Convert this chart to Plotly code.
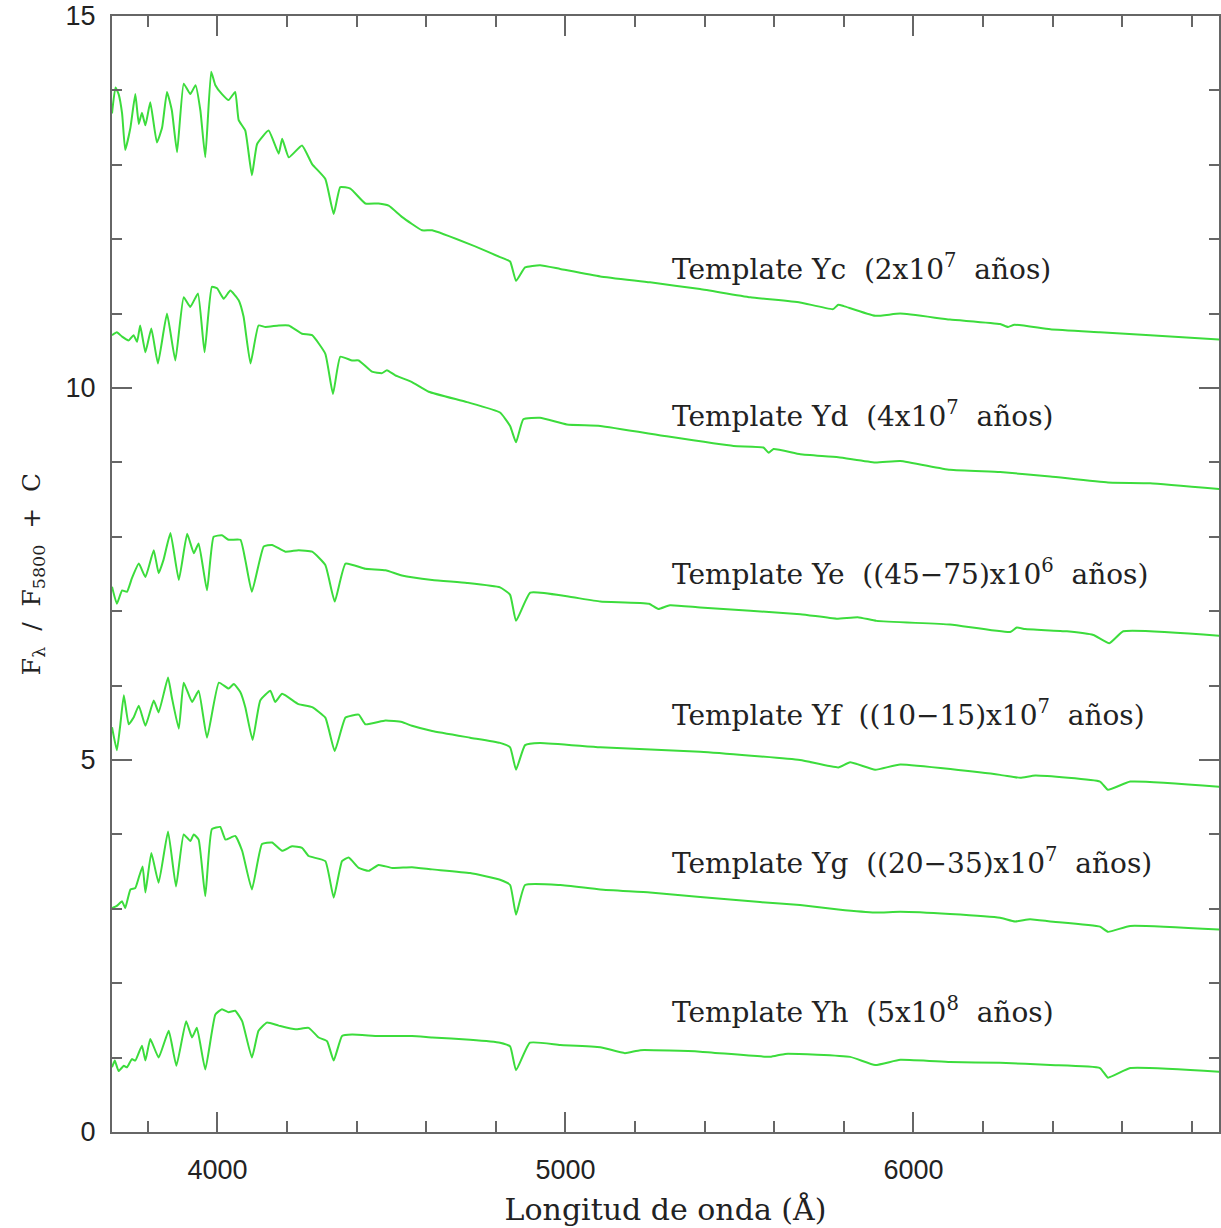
import plotly.graph_objects as go

# ---- data (wavelength in Angstrom, normalised flux + offset) ----
yc = [(3697,13.69),(3707,14.04),(3716,13.95),(3726,13.69),(3735,13.2),(3750,13.5),(3764,13.95),
      (3774,13.55),(3783,13.7),(3793,13.53),(3807,13.84),(3826,13.3),(3841,13.5),(3855,13.98),
      (3869,13.73),(3884,13.17),(3903,14.09),(3922,13.95),(3937,14.07),(3951,13.73),(3965,13.1),
      (3982,14.25),(3994,14.07),(4013,13.95),(4032,13.87),(4051,13.98),(4061,13.6),(4080,13.46),
      (4099,12.86),(4114,13.28),(4147,13.46),(4176,13.15),(4186,13.35),(4205,13.1),(4243,13.26),
      (4272,13.01),(4310,12.81),(4334,12.34),(4353,12.7),(4382,12.68),(4425,12.48),(4463,12.48),
      (4492,12.45),(4530,12.3),(4588,12.12),(4617,12.12),(4726,11.93),(4812,11.76),(4841,11.7),
      (4858,11.44),(4884,11.62),(4927,11.65),(4985,11.6),(5100,11.5),(5243,11.42),(5387,11.33),
      (5531,11.22),(5674,11.15),(5769,11.06),(5784,11.12),(5800,11.1),(5890,10.97),(5962,11.0),
      (6105,10.92),(6249,10.86),(6272,10.82),(6290,10.85),(6393,10.79),(6536,10.75),(6680,10.71),
      (6881,10.65)]

yd = [(3697,10.71),(3711,10.75),(3726,10.69),(3745,10.64),(3759,10.71),(3769,10.62),(3778,10.84),
      (3793,10.48),(3810,10.8),(3829,10.33),(3855,11.0),(3879,10.37),(3903,11.22),(3922,11.09),
      (3944,11.27),(3963,10.48),(3984,11.36),(3999,11.34),(4018,11.2),(4037,11.31),(4061,11.18),
      (4075,10.96),(4095,10.33),(4118,10.84),(4138,10.82),(4176,10.84),(4205,10.84),(4243,10.73),
      (4272,10.71),(4310,10.46),(4332,9.92),(4353,10.42),(4387,10.37),(4406,10.37),(4444,10.22),
      (4473,10.2),(4487,10.24),(4511,10.17),(4559,10.08),(4607,9.95),(4717,9.81),(4812,9.67),
      (4841,9.49),(4858,9.27),(4879,9.58),(4927,9.6),(5004,9.51),(5100,9.49),(5291,9.35),
      (5483,9.22),(5569,9.2),(5584,9.13),(5598,9.18),(5675,9.11),(5784,9.07),(5890,9.0),
      (5962,9.02),(6105,8.9),(6249,8.87),(6393,8.81),(6559,8.73),(6680,8.72),(6881,8.64)]

ye = [(3697,7.33),(3711,7.1),(3726,7.28),(3740,7.26),(3754,7.44),(3774,7.64),(3793,7.46),
      (3817,7.82),(3831,7.51),(3845,7.69),(3865,8.05),(3889,7.42),(3913,8.04),(3932,7.78),
      (3946,7.91),(3970,7.28),(3989,8.0),(4013,8.02),(4032,7.96),(4066,7.96),(4080,7.69),
      (4099,7.26),(4133,7.87),(4157,7.89),(4195,7.8),(4233,7.82),(4272,7.8),(4310,7.62),
      (4337,7.13),(4368,7.64),(4425,7.57),(4483,7.55),(4530,7.48),(4617,7.42),(4717,7.38),
      (4812,7.32),(4841,7.22),(4858,6.87),(4899,7.25),(5004,7.2),(5100,7.13),(5240,7.1),
      (5267,7.03),(5300,7.08),(5387,7.05),(5675,6.96),(5779,6.9),(5840,6.92),(5894,6.87),
      (6105,6.82),(6278,6.72),(6297,6.78),(6321,6.76),(6441,6.73),(6517,6.68),(6563,6.57),
      (6603,6.73),(6881,6.67)]

yf = [(3697,5.44),(3711,5.13),(3721,5.48),(3731,5.87),(3745,5.48),(3759,5.57),(3774,5.73),
      (3793,5.46),(3817,5.8),(3831,5.64),(3858,6.11),(3869,5.84),(3889,5.42),(3903,6.04),
      (3927,5.78),(3946,5.93),(3970,5.3),(4004,6.04),(4032,5.96),(4047,6.02),(4066,5.91),
      (4080,5.71),(4101,5.27),(4123,5.8),(4152,5.93),(4166,5.78),(4186,5.89),(4233,5.75),
      (4272,5.71),(4310,5.57),(4337,5.12),(4368,5.57),(4406,5.61),(4425,5.48),(4483,5.53),
      (4530,5.51),(4559,5.46),(4617,5.39),(4726,5.3),(4812,5.23),(4841,5.17),(4858,4.87),
      (4884,5.2),(4927,5.23),(5100,5.17),(5387,5.11),(5674,5.0),(5784,4.9),(5818,4.97),
      (5890,4.87),(5962,4.94),(6249,4.8),(6307,4.76),(6350,4.79),(6536,4.71),(6559,4.6),
      (6623,4.71),(6881,4.64)]

yg = [(3697,3.01),(3711,3.04),(3726,3.1),(3735,3.01),(3750,3.26),(3764,3.28),(3774,3.42),
      (3785,3.57),(3793,3.22),(3810,3.75),(3831,3.35),(3858,4.04),(3881,3.3),(3903,4.0),
      (3922,3.91),(3932,4.0),(3946,3.93),(3965,3.17),(3984,4.07),(4008,4.1),(4023,3.93),
      (4051,3.98),(4071,3.78),(4099,3.26),(4128,3.87),(4157,3.89),(4186,3.78),(4214,3.84),
      (4243,3.82),(4262,3.71),(4310,3.64),(4334,3.15),(4358,3.64),(4377,3.69),(4406,3.55),
      (4435,3.51),(4463,3.59),(4502,3.55),(4559,3.56),(4617,3.53),(4726,3.48),(4812,3.39),
      (4841,3.32),(4858,2.92),(4884,3.32),(4985,3.32),(5100,3.26),(5243,3.22),(5387,3.16),
      (5559,3.09),(5674,3.05),(5784,2.99),(5890,2.95),(5962,2.96),(6105,2.93),(6249,2.88),
      (6292,2.83),(6335,2.86),(6393,2.83),(6536,2.76),(6559,2.69),(6623,2.77),(6881,2.72)]

yh = [(3697,0.87),(3705,0.96),(3716,0.82),(3731,0.89),(3740,0.87),(3754,0.98),(3764,0.96),
      (3783,1.16),(3793,0.96),(3807,1.25),(3831,1.0),(3860,1.36),(3882,0.89),(3910,1.49),
      (3927,1.27),(3941,1.4),(3965,0.84),(3994,1.58),(4013,1.65),(4032,1.61),(4051,1.63),
      (4071,1.49),(4099,1.0),(4118,1.36),(4142,1.47),(4176,1.43),(4224,1.38),(4262,1.4),
      (4291,1.27),(4315,1.22),(4334,0.96),(4358,1.29),(4387,1.31),(4463,1.29),(4559,1.29),
      (4617,1.27),(4726,1.24),(4812,1.2),(4841,1.15),(4858,0.83),(4898,1.2),(4985,1.17),
      (5100,1.14),(5171,1.06),(5215,1.1),(5387,1.08),(5588,1.01),(5631,1.05),(5818,1.01),
      (5890,0.9),(5962,0.97),(6105,0.94),(6249,0.93),(6393,0.9),(6536,0.86),(6559,0.73),
      (6623,0.86),(6881,0.81)]

labels = ["Template Yc  (2x10<sup>7</sup>  años)",
          "Template Yd  (4x10<sup>7</sup>  años)",
          "Template Ye  ((45\u221275)x10<sup>6</sup>  años)",
          "Template Yf  ((10\u221215)x10<sup>7</sup>  años)",
          "Template Yg  ((20\u221235)x10<sup>7</sup>  años)",
          "Template Yh  (5x10<sup>8</sup>  años)"]
label_y = [11.62, 9.65, 7.52, 5.62, 3.63, 1.63]
label_x = 5300

spectra = [yc, yd, ye, yf, yg, yh]

fig = go.Figure()
for s in spectra:
    fig.add_trace(go.Scatter(x=[p[0] for p in s], y=[p[1] for p in s], mode="lines",
                             line=dict(color="rgb(60,220,60)", width=2, shape="spline", smoothing=0.4),
                             showlegend=False, hoverinfo="skip"))

for t, yy in zip(labels, label_y):
    fig.add_annotation(x=label_x, y=yy, text=t, showarrow=False, xanchor="left", yanchor="middle",
                       font=dict(family="DejaVu Serif", size=28, color="#222"))

axis_common = dict(showgrid=False, zeroline=False, showline=True, linecolor="#666", linewidth=2,
                   mirror="ticks", ticks="inside", tickcolor="#666", tickwidth=1.5, ticklen=20,
                   automargin=False,
                   tickfont=dict(family="Liberation Sans", size=27, color="#222"))

fig.update_xaxes(range=[3697, 6878], tick0=0, dtick=1000, ticklabelstandoff=13,
                 minor=dict(dtick=200, ticks="inside", ticklen=11, tickcolor="#666", tickwidth=1.5),
                 title=dict(text="Longitud de onda (Å)", standoff=15,
                            font=dict(family="DejaVu Serif", size=30, color="#222")),
                 **axis_common)
fig.update_yaxes(range=[0, 15], tick0=0, dtick=5, ticklabelstandoff=9,
                 minor=dict(dtick=1, ticks="inside", ticklen=10, tickcolor="#666", tickwidth=1.5),
                 title=dict(text="F<sub>λ</sub>  /  F<sub>5800</sub>  +  C", standoff=18,
                            font=dict(family="DejaVu Serif", size=25, color="#222")),
                 **axis_common)

fig.update_layout(width=1221, height=1228, margin=dict(l=112, r=2, t=16, b=96),
                  plot_bgcolor="white", paper_bgcolor="white")

fig.write_html("out.html", config={"displayModeBar": False},
               post_script="document.body.style.margin='0';document.body.style.overflow='hidden';")
